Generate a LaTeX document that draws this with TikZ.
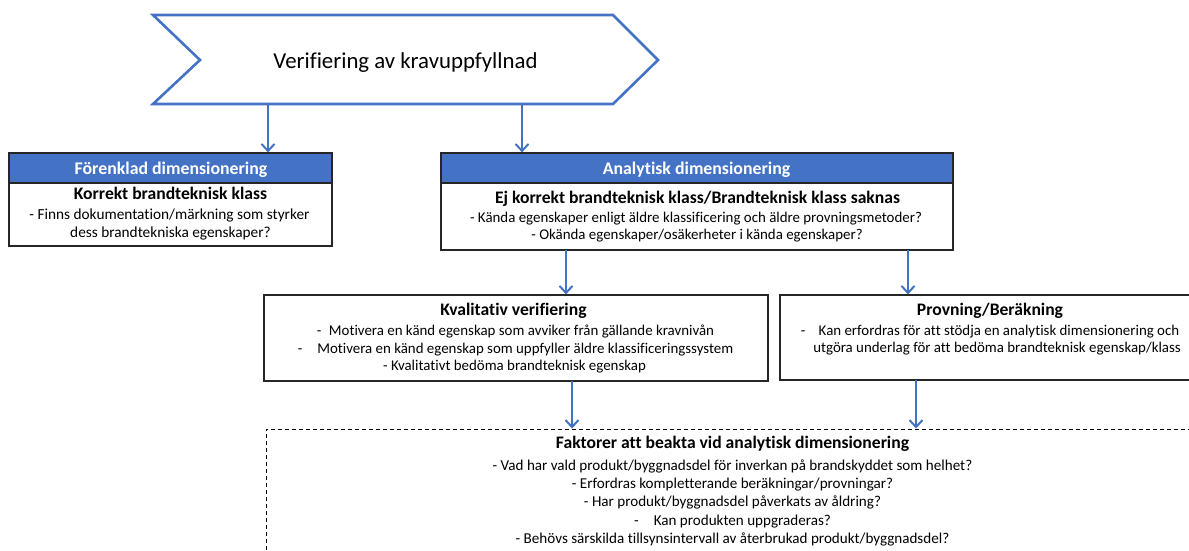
\documentclass[tikz,border=0pt]{standalone}
\usepackage{fontspec}
\setmainfont{Carlito}[Ligatures={NoCommon}]
\usetikzlibrary{arrows.meta}

\definecolor{officeblue}{HTML}{4472C4}
\definecolor{linkblue}{HTML}{4472C4}

\begin{document}
\begin{tikzpicture}[x=1pt,y=-1pt,
  hdr/.style={draw=black!85, line width=1.2pt, fill=officeblue, inner sep=0pt},
  boxframe/.style={draw=black!85, line width=1.2pt, fill=white, inner sep=0pt},
  hdrtext/.style={anchor=base, inner sep=0pt, text=white, font=\fontsize{17.8}{20}\selectfont\bfseries},
  ttl/.style={anchor=base, inner sep=0pt, font=\fontsize{17.6}{20}\selectfont\bfseries},
  txt/.style={anchor=base, inner sep=0pt, font=\fontsize{14.9}{17}\selectfont},
  ftxt/.style={anchor=base, inner sep=0pt, font=\fontsize{15.1}{17}\selectfont},
  arr/.style={draw=linkblue, line width=2pt, -{Straight Barb[length=7pt,width=13pt]}},
]
\useasboundingbox (0,0) rectangle (1189,550);

% ---- title chevron ----
\draw[draw=officeblue, line width=2.6pt, line join=miter, fill=white]
  (153,15) -- (613,15) -- (658,60) -- (613,104) -- (153,104) -- (200,60) -- cycle;
\node[inner sep=0pt, minimum width=460pt, minimum height=89pt] (chev) at (405.5,59.5) {};
\node[anchor=base, inner sep=0pt, font=\fontsize{22.8}{26}\selectfont] (chevtext) at (405.5,68) {Verifiering av kravuppfyllnad};
\coordinate (c1) at (268,104);
\coordinate (c2) at (522,104);

% ---- simplified design ----
\node[boxframe, minimum width=323pt, minimum height=93pt] (lbox) at (170.5,199.5) {};
\node[hdr, minimum width=323pt, minimum height=30pt] (lhead) at (170.5,168) {};
\node[hdrtext] (lheadtext) at (171,174) {Förenklad dimensionering};
\node[ttl] (ltitle) at (170.5,199.5) {Korrekt brandteknisk klass};
\node[txt, font=\fontsize{15.3}{17}\selectfont] (ll1) at (169.5,219) {- Finns dokumentation/märkning som styrker};
\node[txt, font=\fontsize{15.3}{17}\selectfont] (ll2) at (170.5,237) {dess brandtekniska egenskaper?};

% ---- analytical design ----
\node[boxframe, minimum width=512pt, minimum height=97pt] (abox) at (697,201.5) {};
\node[hdr, minimum width=512pt, minimum height=30pt] (ahead) at (697,168) {};
\node[hdrtext] (aheadtext) at (696.5,174) {Analytisk dimensionering};
\node[ttl] (atitle) at (697.5,203) {Ej korrekt brandteknisk klass/Brandteknisk klass saknas};
\node[txt] (al1) at (696,222) {- Kända egenskaper enligt äldre klassificering och äldre provningsmetoder?};
\node[txt] (al2) at (697,239.5) {- Okända egenskaper/osäkerheter i kända egenskaper?};

% ---- qualitative verification ----
\node[boxframe, minimum width=504pt, minimum height=86pt] (kbox) at (516,338) {};
\node[ttl] (ktitle) at (513.5,315) {Kvalitativ verifiering};
\node[txt] (kl1) at (515.5,335) {-\hspace{0.5em}Motivera en känd egenskap som avviker från gällande kravnivån};
\node[txt] (kl2) at (515.5,353) {-\hspace{1em}Motivera en känd egenskap som uppfyller äldre klassificeringssystem};
\node[txt] (kl3) at (514.5,370.5) {- Kvalitativt bedöma brandteknisk egenskap};

% ---- testing / calculation ----
\node[boxframe, minimum width=448pt, minimum height=85pt] (pbox) at (1004,337.5) {};
\node[ttl] (ptitle) at (990,315) {Provning/Beräkning};
\node[txt] (pl1) at (990,335) {-\hspace{0.9em}Kan erfordras för att stödja en analytisk dimensionering och};
\node[txt] (pl2) at (997,352) {utgöra underlag för att bedöma brandteknisk egenskap/klass};

% ---- factors (dashed) ----
\node[draw=black, line width=1pt, dash pattern=on 4pt off 3pt, inner sep=0pt,
      minimum width=934pt, minimum height=150pt] (fbox) at (733,504) {};
\node[ttl] (ftitle) at (732.5,448) {Faktorer att beakta vid analytisk dimensionering};
\node[ftxt] (fl1) at (732.5,470) {- Vad har vald produkt/byggnadsdel för inverkan på brandskyddet som helhet?};
\node[ftxt] (fl2) at (732.5,488.5) {- Erfordras kompletterande beräkningar/provningar?};
\node[ftxt] (fl3) at (732.5,506.5) {- Har produkt/byggnadsdel påverkats av åldring?};
\node[ftxt] (fl4) at (732.5,525) {-\hspace{1em}Kan produkten uppgraderas?};
\node[ftxt] (fl5) at (732.5,543) {- Behövs särskilda tillsynsintervall av återbrukad produkt/byggnadsdel?};

% ---- connectors ----
\coordinate (a1) at (566,250);
\coordinate (a2) at (908,250);
\coordinate (k1) at (572,381);
\coordinate (p1) at (916,380);
\draw[arr] (c1) -- (c1 |- lhead.north);
\draw[arr] (c2) -- (c2 |- ahead.north);
\draw[arr] (a1) -- (a1 |- kbox.north);
\draw[arr] (a2) -- (a2 |- pbox.north);
\draw[arr] (k1) -- (k1 |- fbox.north);
\draw[arr] (p1) -- (p1 |- fbox.north);
\end{tikzpicture}
\end{document}
